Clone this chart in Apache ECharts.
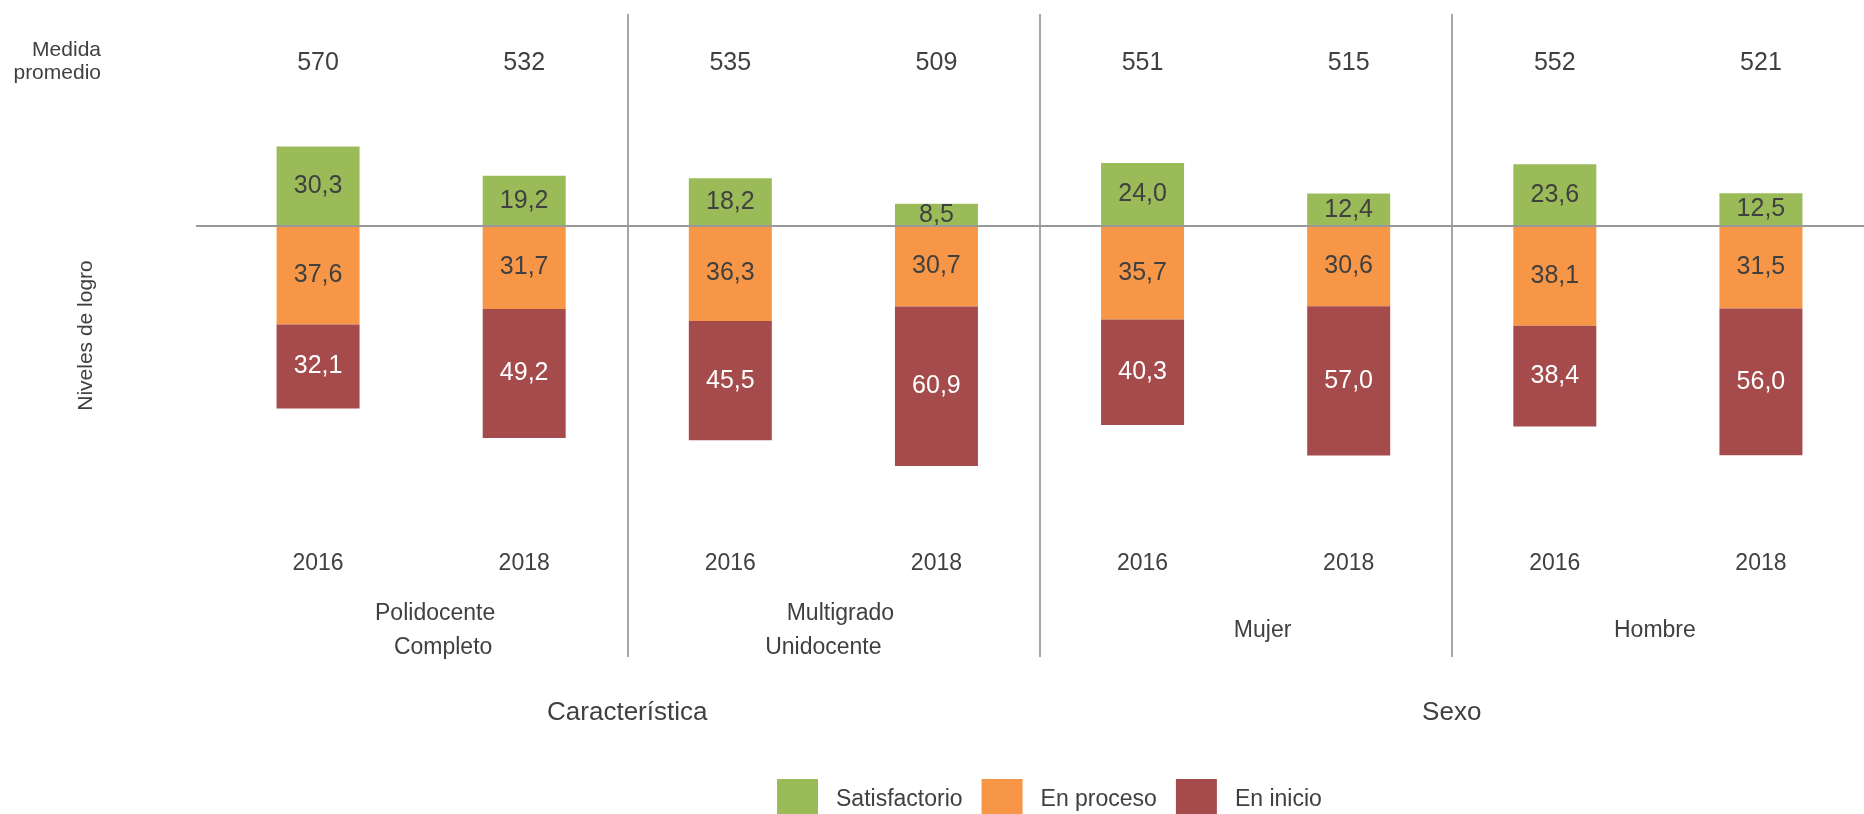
<!DOCTYPE html>
<html><head><meta charset="utf-8">
<script src="https://cdn.jsdelivr.net/npm/echarts@6/dist/echarts.min.js"></script>
<style>html,body{margin:0;padding:0;background:#fff}#c{width:1864px;height:814px}</style>
</head><body><div id="c"></div>
<script>
// ---- data ----
const years = ['2016','2018','2016','2018','2016','2018','2016','2018'];
const groups = ['Polidocente\nCompleto','Multigrado\nUnidocente','Mujer','Hombre'];
const sections = ['Característica','Sexo'];
const medida = [570,532,535,509,551,515,552,521];
const satisfactorio = [30.3,19.2,18.2,8.5,24.0,12.4,23.6,12.5];
const enProceso = [37.6,31.7,36.3,30.7,35.7,30.6,38.1,31.5];
const enInicio = [32.1,49.2,45.5,60.9,40.3,57.0,38.4,56.0];
const seriesNames = ['Satisfactorio','En proceso','En inicio'];

// ---- styles ----
const FONT = '"Liberation Sans", Arial, sans-serif';
const TXT = '#404040';
const colors = ['#9BBB59','#F79646','#A64B4B'];
const lineShift = {'Polidocente':14,'Completo':22,'Multigrado':7,'Unidocente':-10,'Mujer':17,'Hombre':-3};

const rich = {};
const groupFormatter = function (v) {
  return v.split('\n').map(function (line) {
    const key = 'g' + line.replace(/[^A-Za-z]/g, '');
    const s = lineShift[line] || 0;
    rich[key] = {fontSize: 23, fontFamily: FONT, color: TXT, lineHeight: 34,
      padding: [0, s < 0 ? -2 * s : 0, 0, s > 0 ? 2 * s : 0]};
    return '{' + key + '|' + line + '}';
  }).join('\n');
};
groups.forEach(groupFormatter);

const fmt = function (p) { return Math.abs(p.value).toFixed(1).replace('.', ','); };

const chart = echarts.init(document.getElementById('c'), null, {renderer: 'canvas'});
const option = {
  animation: false,
  backgroundColor: '#fff',
  textStyle: {fontFamily: FONT, color: TXT},
  grid: {left: 215, top: 14, width: 1651, height: 643, containLabel: false},
  legend: {
    data: seriesNames, left: 772, top: 774, itemWidth: 41, itemHeight: 42, itemGap: 19,
    icon: 'rect', textStyle: {fontSize: 23, color: TXT, fontFamily: FONT, padding: [0, 0, 0, 13]}
  },
  xAxis: [
    {type: 'category', data: years, position: 'bottom', offset: 0,
      axisLine: {show: false}, axisTick: {show: false},
      axisLabel: {interval: 0, margin: -93, verticalAlign: 'middle', fontSize: 23, color: TXT, fontFamily: FONT},
      splitLine: {show: true, showMaxLine: false,
        interval: function (i) { return i === 2 || i === 4 || i === 6; },
        lineStyle: {color: '#8a8a8a', width: 1.5}}},
    {type: 'category', data: groups, position: 'bottom', offset: 0, gridIndex: 0,
      axisLine: {show: false}, axisTick: {show: false}, splitLine: {show: false},
      axisLabel: {interval: 0, margin: -26, verticalAlign: 'middle', formatter: groupFormatter, rich: rich}},
    {type: 'category', data: sections, position: 'bottom', offset: 0, gridIndex: 0,
      axisLine: {show: false}, axisTick: {show: false}, splitLine: {show: false},
      axisLabel: {interval: 0, margin: 56, verticalAlign: 'middle', fontSize: 26, color: TXT, fontFamily: FONT}},
    {type: 'category', data: medida.map(String), position: 'top', offset: 0, gridIndex: 0,
      axisLine: {show: false}, axisTick: {show: false}, splitLine: {show: false},
      axisLabel: {interval: 0, margin: -49, verticalAlign: 'middle', fontSize: 25, color: TXT, fontFamily: FONT}}
  ],
  yAxis: {
    type: 'value', min: -164.5, max: 80.9,
    axisLine: {show: false}, axisTick: {show: false}, axisLabel: {show: false}, splitLine: {show: false},
    name: 'Niveles de logro', nameLocation: 'middle', nameGap: 118,
    nameTextStyle: {fontSize: 21, color: TXT, fontFamily: FONT}
  },
  series: [
    {name: seriesNames[0], type: 'bar', stack: 'n', xAxisIndex: 0, barWidth: 83,
      data: satisfactorio, itemStyle: {color: colors[0]},
      label: {show: true, position: 'inside', formatter: fmt, fontSize: 25, color: TXT, fontFamily: FONT}},
    {name: seriesNames[1], type: 'bar', stack: 'n', xAxisIndex: 0, barWidth: 83,
      data: enProceso.map(function (v) { return -v; }), itemStyle: {color: colors[1]},
      label: {show: true, position: 'inside', formatter: fmt, fontSize: 25, color: TXT, fontFamily: FONT}},
    {name: seriesNames[2], type: 'bar', stack: 'n', xAxisIndex: 0, barWidth: 83,
      data: enInicio.map(function (v) { return -v; }), itemStyle: {color: colors[2]},
      label: {show: true, position: 'inside', formatter: fmt, fontSize: 25, color: '#ffffff', fontFamily: FONT}}
  ]
};
chart.setOption(option);
const y0 = chart.convertToPixel({yAxisIndex: 0}, 0);
chart.setOption({
  graphic: [
    {type: 'line', shape: {x1: 196, y1: y0, x2: 1864, y2: y0}, style: {stroke: '#999999', lineWidth: 2}, z: 10},
    {type: 'text', x: 101, y: 61.5, style: {text: 'Medida\npromedio', font: '21px ' + FONT, fill: TXT, align: 'right', verticalAlign: 'middle', lineHeight: 23}}
  ]
});
</script>
</body></html>
